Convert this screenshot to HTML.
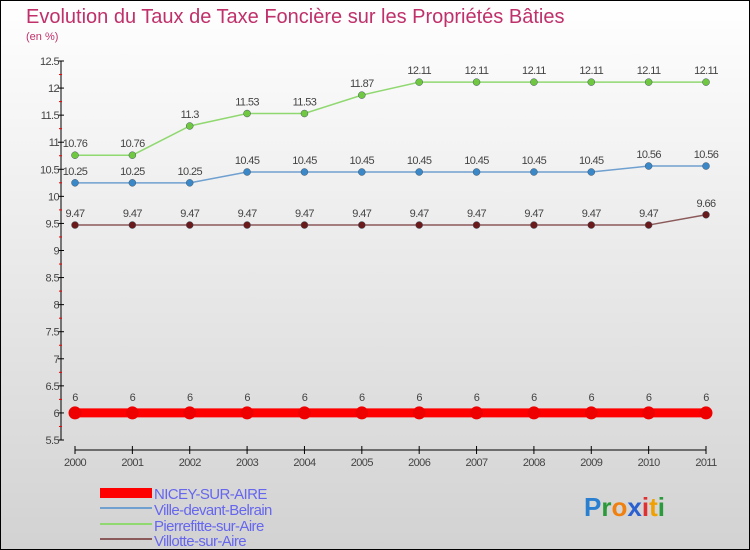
<!DOCTYPE html>
<html><head><meta charset="utf-8"><style>
body{margin:0}
svg{display:block;font-family:"Liberation Sans","DejaVu Sans",sans-serif}
</style></head><body>
<svg id="c" width="750" height="550" xmlns="http://www.w3.org/2000/svg">
<defs><linearGradient id="bg" x1="0" y1="0" x2="0" y2="1"><stop offset="0" stop-color="#ffffff"/><stop offset="1" stop-color="#d2d2d2"/></linearGradient></defs>
<rect x="0.5" y="0.5" width="749" height="549" fill="url(#bg)" stroke="#000"/>
<text x="26" y="23" font-size="20" fill="#c0306a">Evolution du Taux de Taxe Foncière sur les Propriétés Bâties</text>
<text x="26" y="40" font-size="11" fill="#c0306a">(en %)</text>
<g id="axes"></g><g id="series"></g>
<g>
<rect x="100" y="488" width="52" height="10" fill="#ff0000"/>
<text x="154" y="499" font-size="15" fill="#6666ee" style="letter-spacing:-0.6px">NICEY-SUR-AIRE</text>
<rect x="100" y="507" width="52" height="2" fill="#6fa0d0"/>
<text x="154" y="515" font-size="15" fill="#6666ee" style="letter-spacing:-0.6px">Ville-devant-Belrain</text>
<rect x="100" y="523" width="52" height="2" fill="#90d870"/>
<text x="154" y="531" font-size="15" fill="#6666ee" style="letter-spacing:-0.6px">Pierrefitte-sur-Aire</text>
<rect x="100" y="538" width="52" height="2" fill="#8b5a5a"/>
<text x="154" y="546" font-size="15" fill="#6666ee" style="letter-spacing:-0.6px">Villotte-sur-Aire</text>
</g>
<text x="584" y="516" font-size="26" font-weight="bold"><tspan fill="#2a7fd0">P</tspan><tspan fill="#2a9a3a">r</tspan><tspan fill="#f08010">o</tspan><tspan fill="#2a60d0">x</tspan><tspan fill="#e03030">i</tspan><tspan fill="#f0a000">t</tspan><tspan fill="#2a9a3a">i</tspan></text>
</svg>
<script>
const years=[2000,2001,2002,2003,2004,2005,2006,2007,2008,2009,2010,2011];
const nicey=[6,6,6,6,6,6,6,6,6,6,6,6];
const ville=[10.25,10.25,10.25,10.45,10.45,10.45,10.45,10.45,10.45,10.45,10.56,10.56];
const pierrefitte=[10.76,10.76,11.3,11.53,11.53,11.87,12.11,12.11,12.11,12.11,12.11,12.11];
const villotte=[9.47,9.47,9.47,9.47,9.47,9.47,9.47,9.47,9.47,9.47,9.47,9.66];
const yTicks=[5.5,6,6.5,7,7.5,8,8.5,9,9.5,10,10.5,11,11.5,12,12.5];
const NS="http://www.w3.org/2000/svg";
const x=i=>75+i*(706-75)/(years.length-1);
const y=v=>440-(v-5.5)*(440-61)/7;
function mk(t,a,p){const e=document.createElementNS(NS,t);for(const k in a)e.setAttribute(k,a[k]);p.appendChild(e);return e;}
const ax=document.getElementById('axes'),sg=document.getElementById('series');
let l=mk('line',{x1:61,y1:61,x2:61,y2:440,stroke:'#000'},ax);


yTicks.forEach(v=>{
 mk('line',{x1:58,y1:y(v),x2:64,y2:y(v),stroke:'#000'},ax);
 if(v<12.5)mk('line',{x1:59,y1:y(v+0.25),x2:62,y2:y(v+0.25),stroke:'#e00'},ax);
 const t=mk('text',{x:59,y:y(v)+4,'font-size':11,fill:'#444','text-anchor':'end','letter-spacing':'-0.6'},ax);t.textContent=String(v);
 
 
});
l=mk('line',{x1:75,y1:450,x2:706,y2:450,stroke:'#000'},ax);


years.forEach((yr,i)=>{
 mk('line',{x1:x(i),y1:446,x2:x(i),y2:454,stroke:'#000'},ax);
 const t=mk('text',{x:x(i),y:466,'font-size':11,fill:'#444','text-anchor':'middle','letter-spacing':'-0.6'},ax);t.textContent=String(yr);
 
 
});
function series(d,col,dot,w,r,name){
 const g=mk('g',{},sg);
 
 
 mk('polyline',{points:d.map((v,i)=>x(i)+','+y(v)).join(' '),fill:'none',stroke:col,'stroke-width':w},g);
 d.forEach((v,i)=>{
  const c=mk('circle',{cx:x(i),cy:y(v),r:r,fill:dot,stroke:w>3?'none':'#456','stroke-width':0.5},g);
  
  
  const t=mk('text',{x:x(i),y:y(v)-(w>3?12:8),'font-size':11,fill:'#444','text-anchor':'middle','letter-spacing':'-0.6'},g);t.textContent=String(v);
  
  
 });
}
series(villotte,'#8b5a5a','#6a1a1a',1.5,3.5,'villotte');
series(ville,'#6fa0d0','#3a88c8',1.5,3.5,'ville');
series(pierrefitte,'#90d870','#70c840',1.5,3.5,'pierrefitte');
series(nicey,'#ff0000','#ee0000',9,6.5,'nicey');
</script>
</body></html>
